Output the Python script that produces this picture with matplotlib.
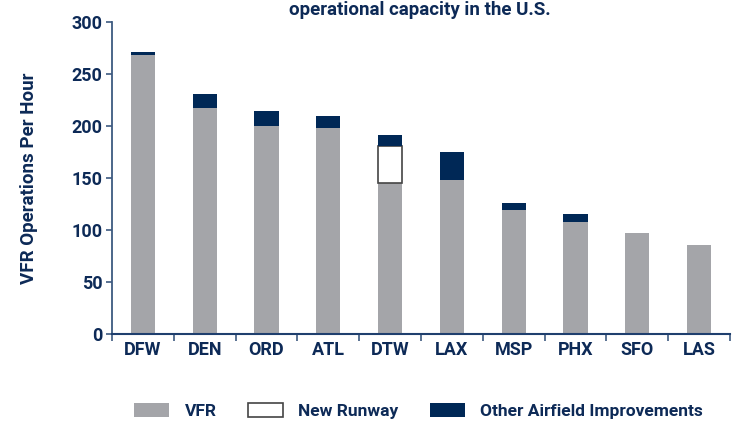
import numpy as np
import matplotlib.pyplot as plt
from matplotlib.patches import Patch

airports = ['DFW', 'DEN', 'ORD', 'ATL', 'DTW', 'LAX', 'MSP', 'PHX', 'SFO', 'LAS']
vfr = [268, 217, 200, 198, 145, 148, 119, 108, 97, 86]
new_runway = [0, 0, 0, 0, 36, 0, 0, 0, 0, 0]
other = [3, 14, 14, 12, 10, 27, 7, 7, 0, 0]

navy = '#002856'
grey = '#a4a5a9'
txt = '#0d2a57'

plt.rcParams['font.family'] = ['Roboto', 'DejaVu Sans']

fig = plt.figure(figsize=(7.37, 4.23), dpi=100)
ax = fig.add_axes([0.152, 0.2104, 0.8385, 0.7376])

x = np.arange(len(airports))
w = 0.39
vfr = np.array(vfr)
new_runway = np.array(new_runway)
other = np.array(other)

ax.bar(x, vfr, w, color=grey, edgecolor='none')
nr = new_runway > 0
ax.bar(x[nr], new_runway[nr], w, bottom=vfr[nr], color='white', edgecolor='#444444', linewidth=1.2)
ax.bar(x, other, w, bottom=vfr + new_runway, color=navy, edgecolor='none')

ax.set_xlim(-0.5, len(airports) - 0.5)
ax.set_ylim(0, 300)
ax.set_yticks(np.arange(0, 301, 50))
ax.set_xticks(x)
ax.set_xticklabels(airports)
ax.set_xticks(np.arange(-0.5, len(airports)), minor=True)
ax.tick_params(axis='x', which='major', length=0, pad=5)
ax.tick_params(axis='x', which='minor', length=5, width=1.2, color='#3d5a80', direction='out')
ax.tick_params(axis='y', length=4, width=1.2, color='#3d5a80', pad=3)
for lab in ax.get_xticklabels() + ax.get_yticklabels():
    lab.set_fontsize(13)
    lab.set_fontweight('bold')
    lab.set_color(txt)

for s in ['top', 'right']:
    ax.spines[s].set_visible(False)
ax.spines['left'].set_color('#3d5a80')
ax.spines['left'].set_linewidth(1.3)
ax.spines['bottom'].set_color('#1f3f6e')
ax.spines['bottom'].set_linewidth(1.5)

ax.set_ylabel('VFR Operations Per Hour', fontsize=13.5, fontweight='bold', color=txt, labelpad=24)

fig.text(0.57, 0.997, 'operational capacity in the U.S.', ha='center', va='top',
         fontsize=13.5, fontweight='bold', color=txt)

handles = [Patch(facecolor=grey, edgecolor='none', label='VFR'),
           Patch(facecolor='white', edgecolor='#444444', linewidth=1.2, label='New Runway'),
           Patch(facecolor=navy, edgecolor='none', label='Other Airfield Improvements')]
leg = fig.legend(handles=handles, loc='center', bbox_to_anchor=(0.568, 0.028), ncol=3,
                 frameon=False, fontsize=12.5, handlelength=2.0, handleheight=0.9,
                 columnspacing=1.8, handletextpad=0.9)
for t in leg.get_texts():
    t.set_fontweight('bold')
    t.set_color(txt)

fig.savefig('out.png', dpi=100)
